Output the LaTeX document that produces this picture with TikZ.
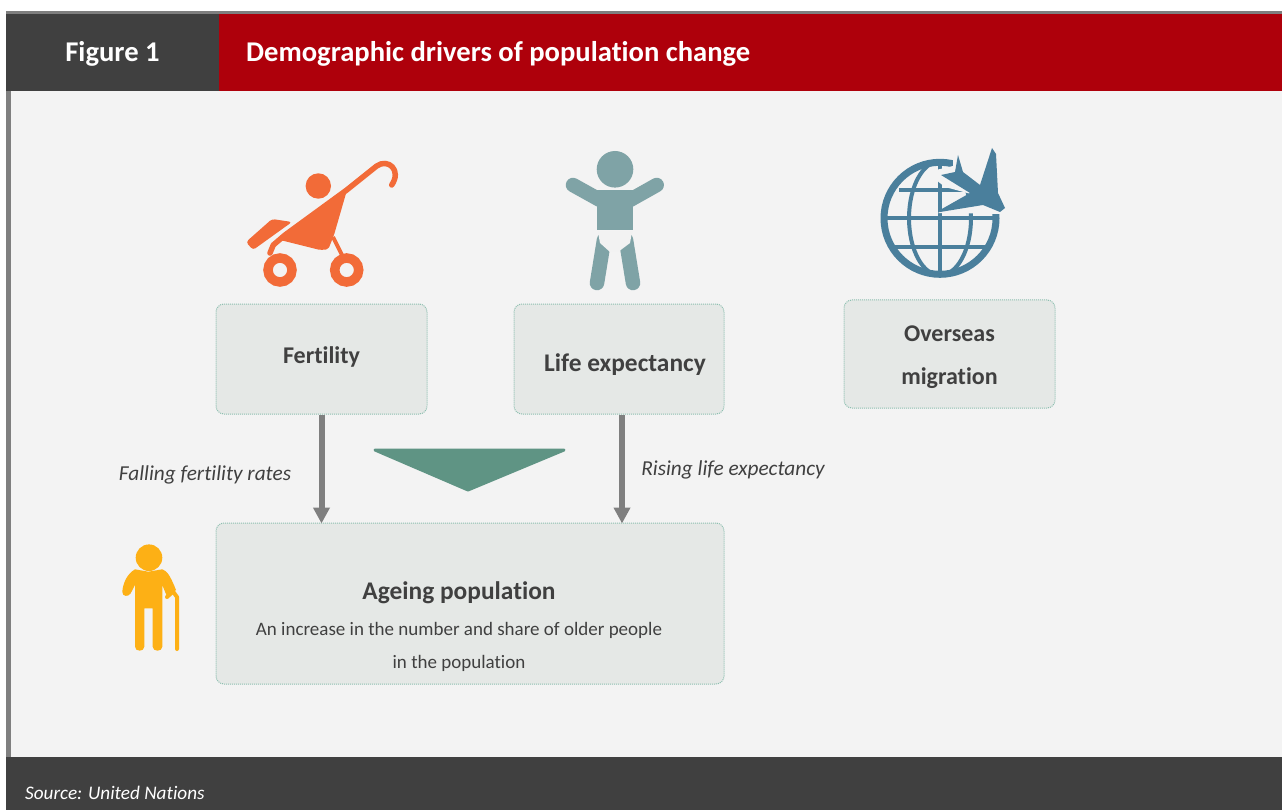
\documentclass[tikz,border=0pt]{standalone}
\usepackage{xcolor}
\usepackage{fontspec}
\setmainfont{Carlito}[Ligatures=CommonOff]
\usepackage{tikz}
\usetikzlibrary{arrows.meta,positioning}

\definecolor{panelbg}{HTML}{F3F3F3}
\definecolor{darkbar}{HTML}{404040}
\definecolor{redbar}{HTML}{AE000B}
\definecolor{sidebar}{HTML}{7F7F7F}
\definecolor{boxfill}{HTML}{E5E8E6}
\definecolor{boxedge}{HTML}{8DBFB0}
\definecolor{funnelgreen}{HTML}{5F9484}
\definecolor{strollerorange}{HTML}{F26B38}
\definecolor{babyteal}{HTML}{7FA3A6}
\definecolor{globeblue}{HTML}{4A7F9C}
\definecolor{elderyellow}{HTML}{FDB015}

\begin{document}
\begin{tikzpicture}[x=1pt, y=-1pt, >=Stealth]
    % Define styles
    \tikzstyle{box} = [rectangle, draw=boxedge, fill=boxfill, line width=1pt, dash pattern=on 1pt off 1pt, rounded corners=8pt, inner sep=0pt]
    \tikzstyle{boxlabel} = [inner sep=0pt, font=\fontsize{24}{28}\selectfont\bfseries, text=darkbar]
    \tikzstyle{widelabel} = [boxlabel, font=\fontsize{25.4}{30}\selectfont\bfseries]
    \tikzstyle{note} = [inner sep=0pt, font=\fontsize{21.3}{25}\selectfont\itshape, text=darkbar]
    \tikzstyle{line} = [draw=sidebar, -{Triangle[length=16pt,width=16pt]}, line width=6pt, shorten >=-1pt]
    \tikzstyle{headtext} = [inner sep=0pt, text=white, font=\fontsize{28.6}{34}\selectfont\bfseries]

    \useasboundingbox (0,0) rectangle (1282,810);

    % Panel and bars
    \fill [white] (0,0) rectangle (1282,810);
    \fill [panelbg] (6,91) rectangle (1282,757);
    \fill [sidebar] (6,11) rectangle (1282,14);
    \fill [sidebar] (6,91) rectangle (11,757);
    \fill [darkbar] (6,14) rectangle (219,91);
    \fill [redbar] (219,14) rectangle (1282,91);
    \fill [darkbar] (6,757) rectangle (1282,810);

    % Header and footer text
    \node [headtext] (figure_no) at (112.5,54) {Figure 1};
    \node [headtext, anchor=west] (title) at (246,54) {Demographic drivers of population change};
    \node [inner sep=0pt, anchor=west, text=white, font=\fontsize{19.2}{23}\selectfont\itshape] (source) at (25,793) {Source: United Nations};

    % Nodes
    \node [box, minimum width=211pt, minimum height=110pt] (fertility) at (321.5,359) {};
    \node [box, minimum width=210pt, minimum height=110pt, right=86pt of fertility] (life) {};
    \node [box, minimum width=211pt, minimum height=108pt] (overseas) at (949.5,354) {};
    \node [box, minimum width=508pt, minimum height=161pt] (ageing) at (470,603.5) {};

    \node [boxlabel] (fertility_label) at ([yshift=2pt]fertility.center) {Fertility};
    \node [widelabel] (life_label) at ([xshift=6pt,yshift=-6pt]life.center) {Life expectancy};
    \node [boxlabel, align=center] (overseas_label) at ([yshift=-3pt]overseas.center) {Overseas\\[15pt]migration};
    \node [widelabel, below=59pt of ageing.north, xshift=-11pt] (ageing_label) {Ageing population};
    \node [inner sep=0pt, font=\fontsize{19}{23}\selectfont, text=darkbar, align=center, below=18pt of ageing_label] (ageing_text) {An increase in the number and share of older people\\[10pt]in the population};

    \node [note] (falling) at (205,475) {Falling fertility rates};
    \node [note] (rising) at (733,470) {Rising life expectancy};

    % Arrows
    \draw [line] (fertility.south) -- (fertility.south |- ageing.north);
    \draw [line] ([xshift=3pt]life.south) -- ([xshift=3pt]life.south |- ageing.north);

    % Funnel
    \fill [funnelgreen, draw=funnelgreen, line width=3pt, line join=round] (375,450) -- (564,450) -- (468,490) -- cycle;

    % Stroller
    \begin{scope}[strollerorange]
        \fill (318.3,186) circle (12.7);
        \draw [line width=5.5pt, line cap=round, line join=round] (270,253) -- (273.3,245) -- (285,235) -- (346.7,190) -- (376.7,166) .. controls (388,158) and (402,170) .. (391.7,185);
        \fill [rounded corners=2pt] (347,190) -- (334,235) -- (328.3,249.3) -- (320,250) -- (280,240) -- cycle;
        \draw [line width=4pt] (333,237) -- (343,257);
        \fill [rounded corners=3pt] (246,242) -- (272,219) -- (292,222) -- (253,250) -- cycle;
        \draw [line width=9.5pt] (280,270) circle (12);
        \draw [line width=9.5pt] (346.7,270) circle (12);
    \end{scope}

    % Baby
    \begin{scope}[babyteal]
        \fill (615,169.3) circle (18.3);
        \draw [line width=14.5pt, line cap=round] (604,240) -- (597,283);
        \draw [line width=14.5pt, line cap=round] (626,240) -- (633,283);
        \draw [line width=14.5pt, line cap=round] (573,185) -- (600,200);
        \draw [line width=14.5pt, line cap=round] (656.7,185) -- (630,200);
        \fill (596.7,190) rectangle (633.3,230);
        \fill [black!5] (598,232) -- (632,232) -- (630,243) -- (618,252) -- (610,252) -- (600,243) -- cycle;
    \end{scope}

    % Globe and plane
    \begin{scope}[globeblue]
        \draw [line width=7pt] (940,218.3) circle (56);
        \draw [line width=4pt] (940,161) -- (940,276);
        \draw [line width=4pt] (940,218.3) ellipse (31 and 57);
        \draw [line width=4pt] (899,190) -- (981,190);
        \draw [line width=4pt] (884,218.3) -- (996,218.3);
        \draw [line width=4pt] (889,246.6) -- (991,246.6);
        \fill [panelbg] (953,150) -- (1007,143) -- (1010,214) -- (938,213) -- (971,194) -- (945,187) -- (936,180) -- (936,170) -- (953,166) -- cycle;
        \fill [line join=round] (940,210) -- (970,193) -- (941,175) -- (955,172) -- (958,155) -- (963,172) -- (980,185) -- (992,148) -- (996,154) -- (998,193) -- (1005,208) -- (1000,212) -- (983,205) -- (940,212) -- cycle;
        \draw [line width=2pt, panelbg] (971,170) -- (979,177);
    \end{scope}

    % Elderly person
    \begin{scope}[elderyellow]
        \fill (149,557.7) circle (13.3);
        \fill (122.3,591.7) .. controls (123,583) and (127,574) .. (135,569.3) -- (148.3,571.7) -- (162.3,569.3) .. controls (167,571) and (170,575) .. (176,590) -- (167.3,597.3) -- (162.3,585) -- (162.3,646.7) .. controls (162.3,652) and (152.7,652) .. (152.7,646.7) -- (152.7,608.3) -- (144.3,608.3) -- (144.3,646.7) .. controls (144.3,652) and (135,652) .. (135,646.7) -- (135,585) -- (130.7,593.3) .. controls (129,597) and (122,597) .. (122.3,591.7) -- cycle;
        \draw [line width=4pt, line cap=round, line join=round] (167,597) -- (173,591.5) -- (177,597) -- (177,649);
    \end{scope}
\end{tikzpicture}
\end{document}
